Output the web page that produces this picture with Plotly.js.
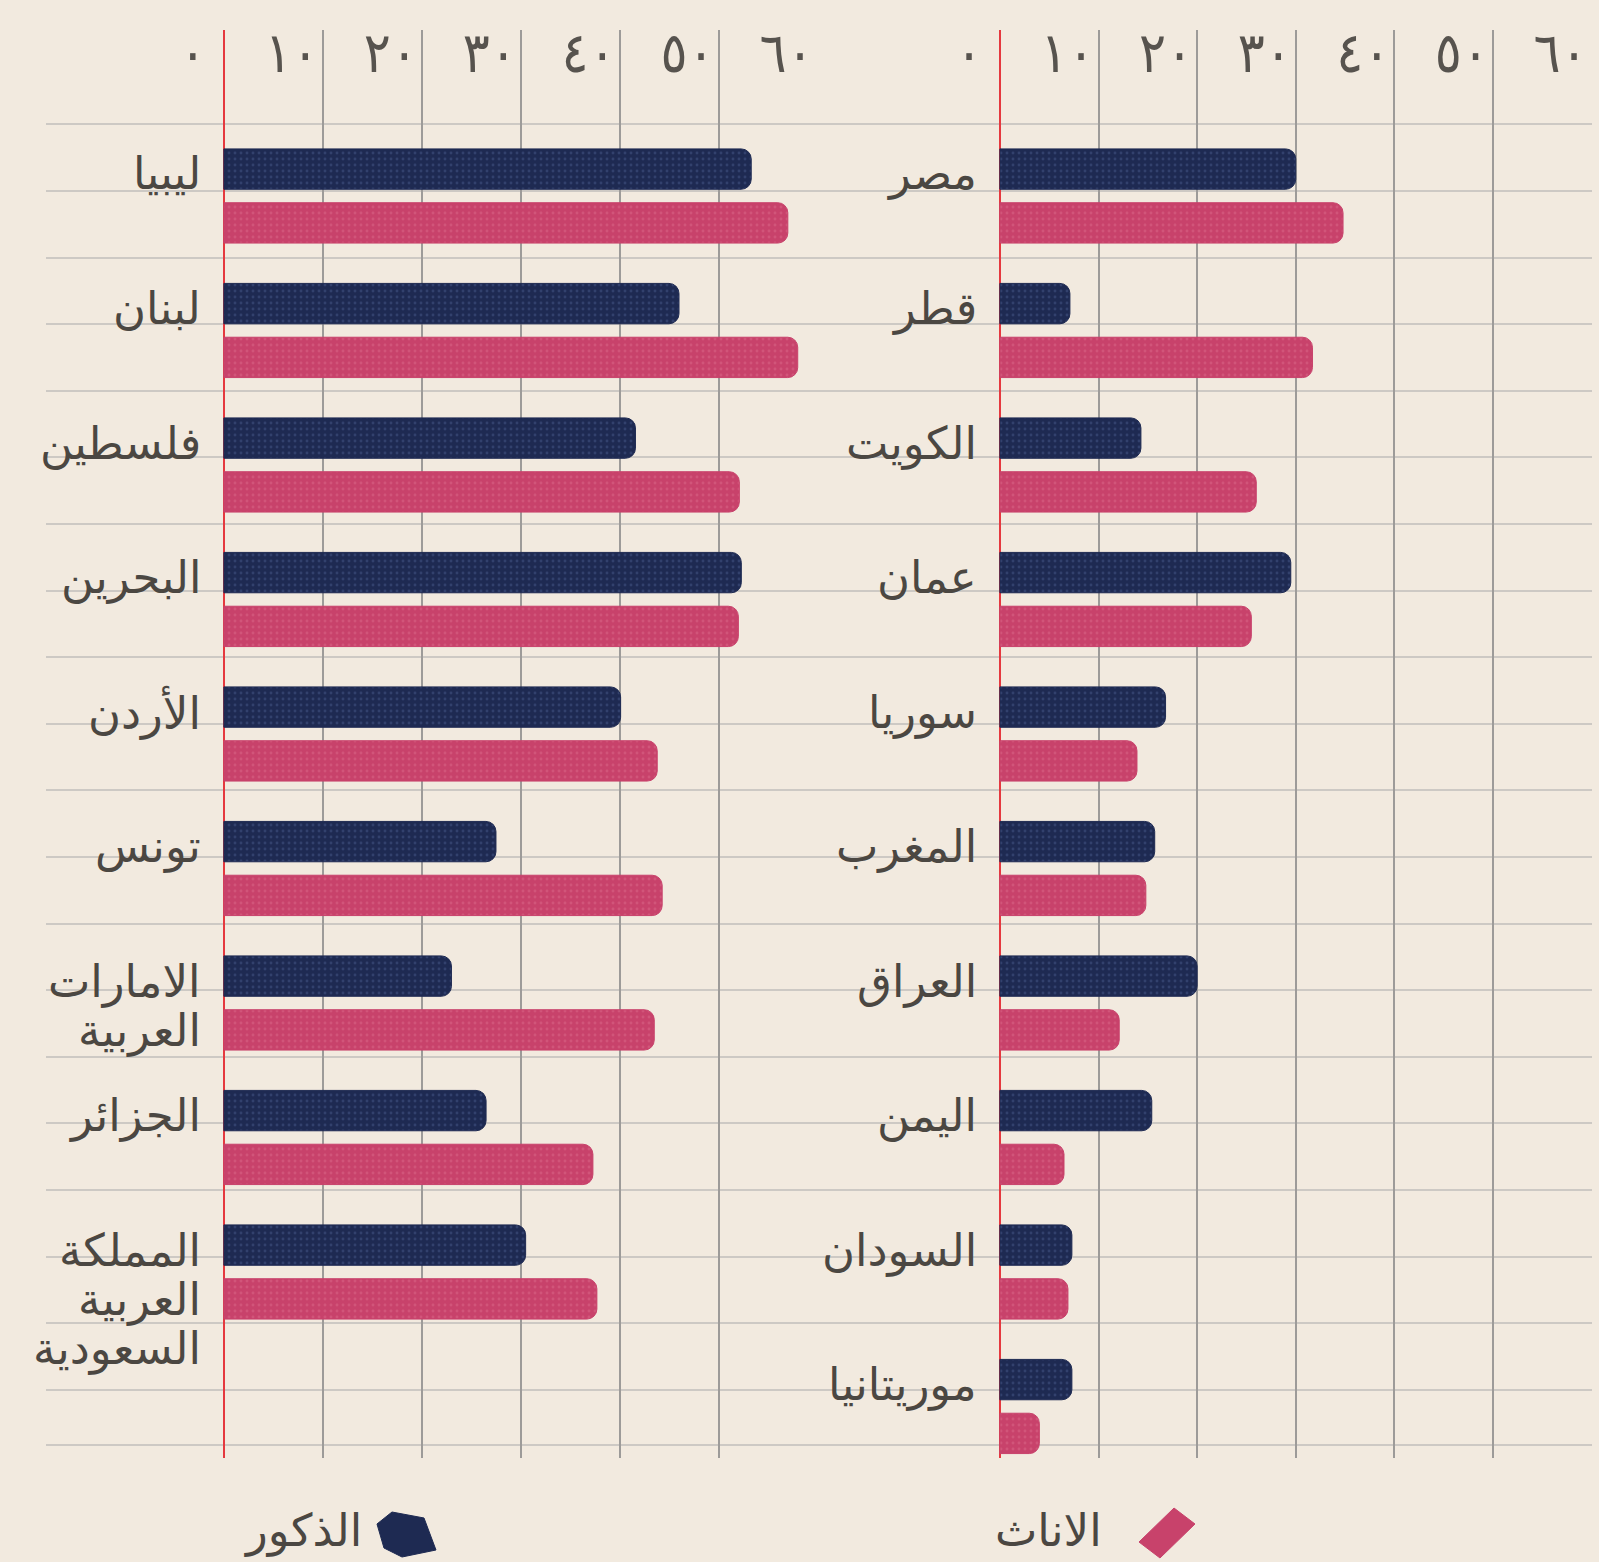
<!DOCTYPE html>
<html>
<head>
<meta charset="utf-8">
<script src="https://cdn.plot.ly/plotly-3.0.1.min.js"></script>
<style>
html,body{margin:0;padding:0;background:#f2eadf;}
#chart{width:1599px;height:1562px;}
</style>
</head>
<body>
<div id="chart"></div>
<script>
// ---------- DATA ----------
const leftCountries = ['ليبيا','لبنان','فلسطين','البحرين','الأردن','تونس','الامارات العربية','الجزائر','المملكة العربية السعودية'];
const leftMale   = [53.3, 46.0, 41.6, 52.3, 40.1, 27.5, 23.0, 26.5, 30.5];
const leftFemale = [57.0, 58.0, 52.1, 52.0, 43.8, 44.3, 43.5, 37.3, 37.7];

const rightCountries = ['مصر','قطر','الكويت','عمان','سوريا','المغرب','العراق','اليمن','السودان','موريتانيا'];
const rightMale   = [30.0, 7.1, 14.3, 29.5, 16.8, 15.7, 20.0, 15.4, 7.3, 7.3];
const rightFemale = [34.8, 31.7, 26.0, 25.5, 13.9, 14.8, 12.1, 6.5, 6.9, 4.0];

const tickValues = [0, 10, 20, 30, 40, 50, 60];
const tickLabels = ['٠','١٠','٢٠','٣٠','٤٠','٥٠','٦٠'];

const maleName = 'الذكور';
const femaleName = 'الاناث';

// ---------- STYLE ----------
const W = 1599, H = 1562;
const px = v => v / W;
const py = v => 1 - v / H;
const FONT = 'DejaVu Sans, Noto Sans, sans-serif';
const TICKFONT = 'DejaVu Sans Condensed, DejaVu Sans, sans-serif';
const TXT = '#4b4742';
const NAVY = '#1e2a52';
const PINK = '#c8426b';
const BG = '#f2eadf';
const FS = 45;
const LINE_GAP = 49;

function barTrace(x, y, name, color, xa, ya, speck) {
  return {
    type: 'bar', orientation: 'h', x: x, y: y, name: name,
    xaxis: xa, yaxis: ya, showlegend: false,
    marker: {
      color: color, cornerradius: 10,
      line: {color: color, width: 1},
      pattern: {shape: '.', fillmode: 'overlay', fgcolor: speck, size: 6, solidity: 0.18}
    },
    hovertemplate: '%{y}: %{x}<extra>' + name + '</extra>'
  };
}

const data = [
  {type: 'scatter', x: [], y: [], xaxis: 'x', yaxis: 'y', hoverinfo: 'skip', showlegend: false},
  barTrace(leftMale, leftCountries, maleName, NAVY, 'x2', 'y2', 'rgba(120,140,200,0.45)'),
  barTrace(leftFemale, leftCountries, femaleName, PINK, 'x2', 'y2', 'rgba(240,150,175,0.45)'),
  barTrace(rightMale, rightCountries, maleName, NAVY, 'x3', 'y3', 'rgba(120,140,200,0.45)'),
  barTrace(rightFemale, rightCountries, femaleName, PINK, 'x3', 'y3', 'rgba(240,150,175,0.45)')
];

function panelX(domain, range) {
  return {
    domain: domain, range: range, side: 'top',
    tickmode: 'array', tickvals: tickValues, ticktext: tickLabels,
    ticks: '', ticklabelposition: 'inside', ticklabelshift: -31, ticklabelstandoff: 0,
    tickfont: {size: 56, color: '#57534e', family: TICKFONT},
    showgrid: true, gridcolor: '#9d9b99', gridwidth: 1.5,
    zeroline: true, zerolinecolor: '#e5393f', zerolinewidth: 2,
    showline: false, fixedrange: true
  };
}
function panelY(cats, anchor) {
  return {
    domain: [py(1458), py(30)], type: 'category',
    categoryorder: 'array', categoryarray: cats,
    range: [(1458 - 196) / 134.5, (30 - 196) / 134.5],
    showgrid: false, zeroline: false, showticklabels: false, showline: false,
    anchor: anchor, fixedrange: true
  };
}

const xa2 = panelX([px(46), px(818)], [-17.98, 60.05]);
xa2.anchor = 'y2';
const xa3 = panelX([px(818), px(1592)], [-18.45, 60.05]);
xa3.anchor = 'y3';

const annotations = [];
function addLabels(cats, xref, yref) {
  cats.forEach((c, i) => {
    c.split(' ').forEach((line, k) => {
      annotations.push({
        xref: xref, yref: yref, x: 0, y: i,
        xanchor: 'right', yanchor: 'middle', align: 'right',
        xshift: -21, yshift: 22 - k * LINE_GAP,
        text: line, showarrow: false,
        font: {size: FS, color: TXT, family: FONT}
      });
    });
  });
}
addLabels(leftCountries, 'x2', 'y2');
addLabels(rightCountries, 'x3', 'y3');

annotations.push({xref: 'paper', yref: 'paper', x: px(364), y: py(1530), xanchor: 'right', yanchor: 'middle',
  text: maleName, showarrow: false, font: {size: FS, color: TXT, family: FONT}});
annotations.push({xref: 'paper', yref: 'paper', x: px(1104), y: py(1530), xanchor: 'right', yanchor: 'middle',
  text: femaleName, showarrow: false, font: {size: FS, color: TXT, family: FONT}});

function pathPx(pts) {
  return pts.map((p, i) => (i ? 'L' : 'M') + px(p[0]).toFixed(5) + ',' + py(p[1]).toFixed(5)).join(' ') + ' Z';
}
const shapes = [
  {type: 'path', xref: 'paper', yref: 'paper', path: pathPx([[377,1524],[392,1512],[424,1518],[436,1550],[402,1557],[384,1548]]),
   fillcolor: NAVY, line: {color: NAVY, width: 1}},
  {type: 'path', xref: 'paper', yref: 'paper', path: pathPx([[1139,1542],[1174,1508],[1195,1524],[1160,1558]]),
   fillcolor: PINK, line: {color: PINK, width: 1}}
];

const layout = {
  width: W, height: H,
  margin: {l: 0, r: 0, t: 0, b: 0},
  paper_bgcolor: BG, plot_bgcolor: 'rgba(0,0,0,0)',
  barmode: 'group', bargap: 0.2, bargroupgap: 0.25,
  showlegend: false,
  xaxis: {domain: [px(46), px(1592)], range: [0, 1], anchor: 'y', side: 'bottom',
          showgrid: false, zeroline: false, showticklabels: false, ticks: '',
          showline: true, linecolor: '#cdc9c4', linewidth: 2, fixedrange: true},
  yaxis: {domain: [py(1444), py(100)], range: [-(1444 - 124.4) / 66.6, (124.4 - 100) / 66.6],
          anchor: 'x', tickmode: 'linear', tick0: 0, dtick: 1,
          showgrid: true, gridcolor: '#cdc9c4', gridwidth: 2,
          zeroline: false, showticklabels: false, ticks: '', fixedrange: true},
  xaxis2: xa2, yaxis2: panelY(leftCountries, 'x2'),
  xaxis3: xa3, yaxis3: panelY(rightCountries, 'x3'),
  annotations: annotations,
  shapes: shapes,
  font: {family: FONT, color: TXT}
};

Plotly.newPlot('chart', data, layout, {displayModeBar: false, responsive: false});
</script>
</body>
</html>
